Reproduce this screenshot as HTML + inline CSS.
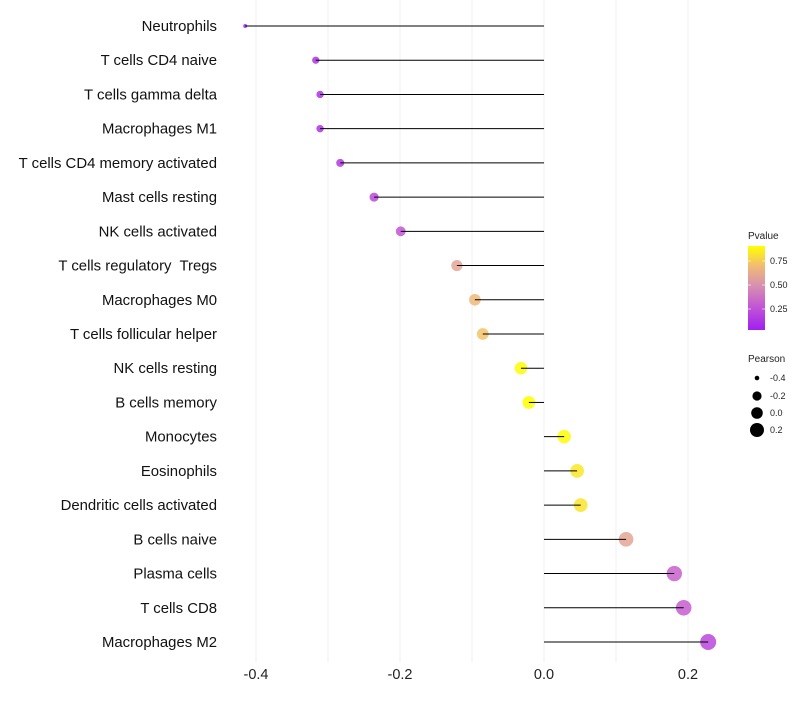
<!DOCTYPE html>
<html><head><meta charset="utf-8"><style>
body{margin:0;background:#fff;font-family:"Liberation Sans",sans-serif}
text{white-space:pre}
</style></head><body>
<svg id="chart" width="800" height="700" xmlns="http://www.w3.org/2000/svg">
<defs><linearGradient id="pg" x1="0" y1="1" x2="0" y2="0">
<stop offset="0" stop-color="#a020f0"/><stop offset="0.25" stop-color="#c050d8"/><stop offset="0.53" stop-color="#d890b0"/><stop offset="0.75" stop-color="#f0b878"/><stop offset="1" stop-color="#ffff00"/></linearGradient></defs>
<g id="grid"></g><g id="marks"></g><g id="labels"></g>
<g font-size="9" fill="#222">
<text x="748" y="239" font-size="10">Pvalue</text>
<rect x="748" y="246" width="17" height="84" fill="url(#pg)"/>
<line x1="748" x2="751" y1="261" y2="261" stroke="#fff" stroke-opacity="0.6"/><line x1="762" x2="765" y1="261" y2="261" stroke="#fff" stroke-opacity="0.6"/>
<line x1="748" x2="751" y1="285" y2="285" stroke="#fff" stroke-opacity="0.6"/><line x1="762" x2="765" y1="285" y2="285" stroke="#fff" stroke-opacity="0.6"/>
<line x1="748" x2="751" y1="309" y2="309" stroke="#fff" stroke-opacity="0.6"/><line x1="762" x2="765" y1="309" y2="309" stroke="#fff" stroke-opacity="0.6"/>
<text x="770" y="264">0.75</text><text x="770" y="288">0.50</text><text x="770" y="312">0.25</text>
</g>
<g font-size="9" fill="#222">
<text x="748" y="362" font-size="10">Pearson</text>
<circle cx="757" cy="378" r="2.3" fill="#000"/><text x="770" y="381">-0.4</text>
<circle cx="757" cy="396" r="4.6" fill="#000"/><text x="770" y="399">-0.2</text>
<circle cx="757" cy="413" r="5.8" fill="#000"/><text x="770" y="416">0.0</text>
<circle cx="757" cy="430" r="7" fill="#000"/><text x="770" y="433">0.2</text>
</g>
</svg>
<script>
const categories=["Neutrophils","T cells CD4 naive","T cells gamma delta","Macrophages M1","T cells CD4 memory activated","Mast cells resting","NK cells activated","T cells regulatory  Tregs","Macrophages M0","T cells follicular helper","NK cells resting","B cells memory","Monocytes","Eosinophils","Dendritic cells activated","B cells naive","Plasma cells","T cells CD8","Macrophages M2"];
const pearson=[-0.415,-0.317,-0.311,-0.311,-0.283,-0.236,-0.199,-0.121,-0.096,-0.085,-0.032,-0.021,0.028,0.046,0.051,0.114,0.181,0.194,0.228];
const pvalue=[0.05,0.1,0.1,0.1,0.13,0.2,0.27,0.6,0.7,0.73,0.91,0.92,0.91,0.85,0.84,0.6,0.32,0.3,0.2];
const xTicks=[-0.4,-0.2,0.0,0.2];
const gridVals=[-0.4,-0.3,-0.2,-0.1,0,0.1,0.2];
const NS="http://www.w3.org/2000/svg";
const x=v=>544+v*720;
const y=i=>26+i*(616/18);
const rad=v=>Math.sqrt(Math.max(3,42.7+93.3*v));
const stops=[[0,[160,32,240]],[0.25,[192,80,216]],[0.5,[216,144,176]],[0.7,[240,184,120]],[0.92,[255,255,0]]];
function col(p){if(p<=stops[0][0])return stops[0][1];for(let k=1;k<stops.length;k++){if(p<=stops[k][0]){const a=stops[k-1],b=stops[k],t=(p-a[0])/(b[0]-a[0]);return a[1].map((c,j)=>Math.round(c+(b[1][j]-c)*t));}}return stops[stops.length-1][1];}
function mk(t,a,parent){const e=document.createElementNS(NS,t);for(const k in a)e.setAttribute(k,a[k]);parent.appendChild(e);return e;}
const grid=document.getElementById('grid'),marks=document.getElementById('marks'),labels=document.getElementById('labels');
gridVals.forEach(v=>{const l=mk('line',{x1:x(v),x2:x(v),y1:0,y2:662,stroke:'#f2f2f2','stroke-width':1},grid);

});
xTicks.forEach(v=>{const t=mk('text',{x:x(v),y:679,'text-anchor':'middle','font-size':14.5,fill:'#222'},labels);t.textContent=v.toFixed(1);

});
categories.forEach((c,i)=>{
const t=mk('text',{x:217,y:y(i)+5,'text-anchor':'end','font-size':14.9,fill:'#111'},labels);t.textContent=c;


const cl=col(pvalue[i]);
const p=mk('circle',{cx:x(pearson[i]),cy:y(i),r:rad(pearson[i]),fill:'rgb('+cl.join(',')+')','fill-opacity':0.85},marks);


const l=mk('line',{x1:x(0),x2:x(pearson[i]),y1:y(i),y2:y(i),stroke:'#000','stroke-width':1},marks);


});
</script>
</body></html>
